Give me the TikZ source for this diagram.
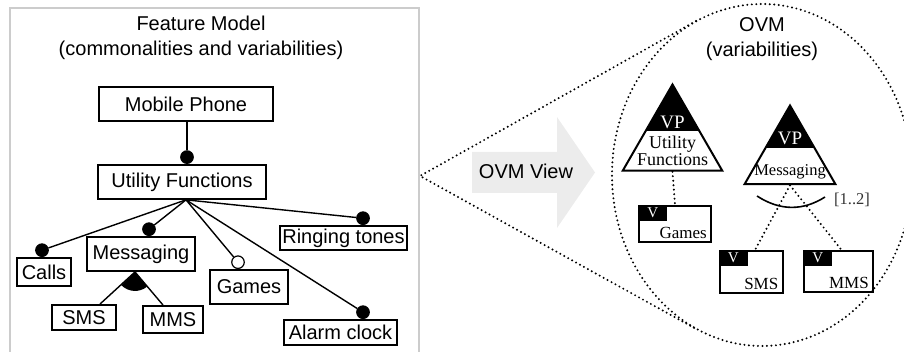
\documentclass[tikz,border=0pt]{standalone}
\usepackage{fontspec}
\setmainfont{Liberation Sans}
\newfontfamily\ovmfont{Liberation Serif}
\usetikzlibrary{positioning, calc, shapes.geometric}
\definecolor{framegray}{RGB}{204,204,204}
\definecolor{viewgray}{RGB}{236,236,236}
\newcommand{\fmsize}{\fontsize{20}{25}\selectfont}
\tikzstyle{feature} = [rectangle, draw, line width=1.9pt, inner sep=0pt, font=\fmsize]
\tikzstyle{mand} = [circle, draw, fill, line width=1.2pt, inner sep=0pt, minimum size=12.5pt, anchor=south]
\tikzstyle{opt} = [mand, fill=white]
\tikzstyle{edge} = [draw, line width=1.4pt]
\tikzstyle{dots} = [draw, line width=2.2pt, line cap=round, dash pattern=on 0pt off 4.5pt]
\tikzstyle{vp} = [regular polygon, regular polygon sides=3, draw, line width=2pt, inner sep=0pt,
    path picture={\fill ($(path picture bounding box.north west)!0.54!(path picture bounding box.south west)$)
        rectangle (path picture bounding box.north east);}]
\tikzstyle{vpTag} = [text=white, inner sep=0pt, font=\ovmfont\fontsize{19}{19}\selectfont]
\tikzstyle{vpName} = [align=center, inner sep=0pt, font=\ovmfont\fontsize{18}{14}\selectfont]
\tikzstyle{vbox} = [rectangle, draw, line width=2pt, inner sep=0pt]
\tikzstyle{vtag} = [fill=black, text=white, anchor=north west, inner sep=0pt, minimum width=29pt,
    minimum height=16pt, font=\ovmfont\fontsize{15}{15}\selectfont]
\tikzstyle{vname} = [anchor=base east, xshift=-5pt, yshift=4.5pt, inner sep=0pt,
    font=\ovmfont\fontsize{17}{17}\selectfont]

\begin{document}
\begin{tikzpicture}[x=1pt, y=-1pt]
    \useasboundingbox (0,0) rectangle (904,352);

    % feature model side
    \draw[framegray, line width=2pt] (10,353) |- (419,8) -- (419,353);
    \node[align=center, font=\fmsize] (fmTitle) at (201,38) {Feature Model\\(commonalities and variabilities)};

    \node[feature, minimum width=174pt, minimum height=34pt] (mobile) at (186,104) {Mobile Phone};
    \node[feature, minimum width=168pt, minimum height=34pt, below=42pt of mobile, xshift=-4pt] (utility) {Utility Functions};

    \node[feature, minimum width=54pt, minimum height=28pt] (calls) at (44,272) {Calls};
    \node[feature, minimum width=108pt, minimum height=34pt] (messaging) at (141,254) {Messaging};
    \node[feature, minimum width=78pt, minimum height=34pt] (games) at (249,287) {Games};
    \node[feature, minimum width=127pt, minimum height=24pt] (ringing) at (343.5,238) {Ringing tones};
    \node[feature, minimum width=113pt, minimum height=25pt] (alarm) at (340.5,332.5) {Alarm clock};
    \node[feature, minimum width=64pt, minimum height=25pt] (sms) at (84,317.5) {SMS};
    \node[feature, minimum width=60pt, minimum height=27pt] (mms) at (173,319.5) {MMS};

    \node[mand] (dUtility) at ([xshift=5pt]utility.north) {};
    \node[mand] (dCalls) at ([xshift=-2pt]calls.north) {};
    \node[mand] (dMsg) at ([xshift=8pt]messaging.north) {};
    \node[opt] (oGames) at ([xshift=-11pt]games.north) {};
    \node[mand] (dRing) at ([xshift=19.5pt]ringing.north) {};
    \node[mand] (dAlarm) at ([xshift=22.5pt]alarm.north) {};

    \path[edge] (dUtility |- mobile.south) -- (dUtility);
    \coordinate (fork) at ([xshift=4pt]utility.south);
    \path[edge] (fork) -- (dCalls);
    \path[edge] (fork) -- (dMsg);
    \path[edge] (fork) -- (oGames);
    \path[edge] (fork) -- (dAlarm);
    \path[edge] (fork) -- (dRing);

    % alternative group under Messaging
    \coordinate (orApex) at ([xshift=-6pt]messaging.south);
    \fill (orApex) -- +(136:19) arc[start angle=136, end angle=51, radius=19] -- cycle;
    \path[edge] (orApex) -- ([xshift=16pt]sms.north);
    \path[edge] (orApex) -- ([xshift=-10pt]mms.north);

    % view arrow
    \fill[viewgray] (472,152) -- (557,152) -- (557,117) -- (595,172.5) -- (557,228) -- (557,193) -- (472,193) -- cycle;
    \node[font=\fmsize] (ovmView) at (526,171.5) {OVM View};

    % OVM bubble
    \coordinate (viewTip) at (420,176);
    \coordinate (bubbleTop) at (696,21);
    \coordinate (bubbleBot) at (696,329);
    \path[dots] (bubbleTop) -- (viewTip) -- (bubbleBot);
    \path[dots] (762,175) ellipse [x radius=150, y radius=171];
    \node[align=center, font=\fmsize] (ovmTitle) at (762,39.5) {OVM\\(variabilities)};

    \node[vp, minimum size=115pt] (vpUtility) at (672.5,142) {};
    \node[vpTag] (vpUtilityTag) at ([yshift=20pt]vpUtility.center) {VP};
    \node[vpName] (vpUtilityName) at ([yshift=-9pt]vpUtility.center) {Utility\\Functions};

    \node[vp, minimum size=105pt] (vpMsg) at (790,158) {};
    \node[vpTag] (vpMsgTag) at ([yshift=20pt]vpMsg.center) {VP};
    \node[vpName, font=\ovmfont\fontsize{16.5}{16.5}\selectfont] (vpMsgName) at ([yshift=-14pt]vpMsg.center) {Messaging};

    \node[vbox, minimum width=72pt, minimum height=36pt, label={[vtag]north west:V}, label={[vname]south east:Games}] (vGames) at (675,224) {};
    \node[vbox, minimum width=63pt, minimum height=42pt, label={[vtag]north west:V}, label={[vname]south east:SMS}] (vSMS) at (751,272) {};
    \node[vbox, minimum width=69pt, minimum height=41pt, label={[vtag]north west:V}, label={[vname]south east:MMS}] (vMMS) at (838.5,271.5) {};

    \path[dots] (vpUtility.south) -- (vGames.north);
    \path[dots] (vpMsg.south) -- ([xshift=4pt]vSMS.north);
    \path[dots] (vpMsg.south) -- ([xshift=3pt]vMMS.north);

    \draw[line width=1.6pt] (757,196) .. controls (780,211) and (803,211) .. (825,197);
    \node[font=\ovmfont\fontsize{16.5}{16.5}\selectfont, text=black!80] (card) at (852,200) {[1..2]};
\end{tikzpicture}
\end{document}
